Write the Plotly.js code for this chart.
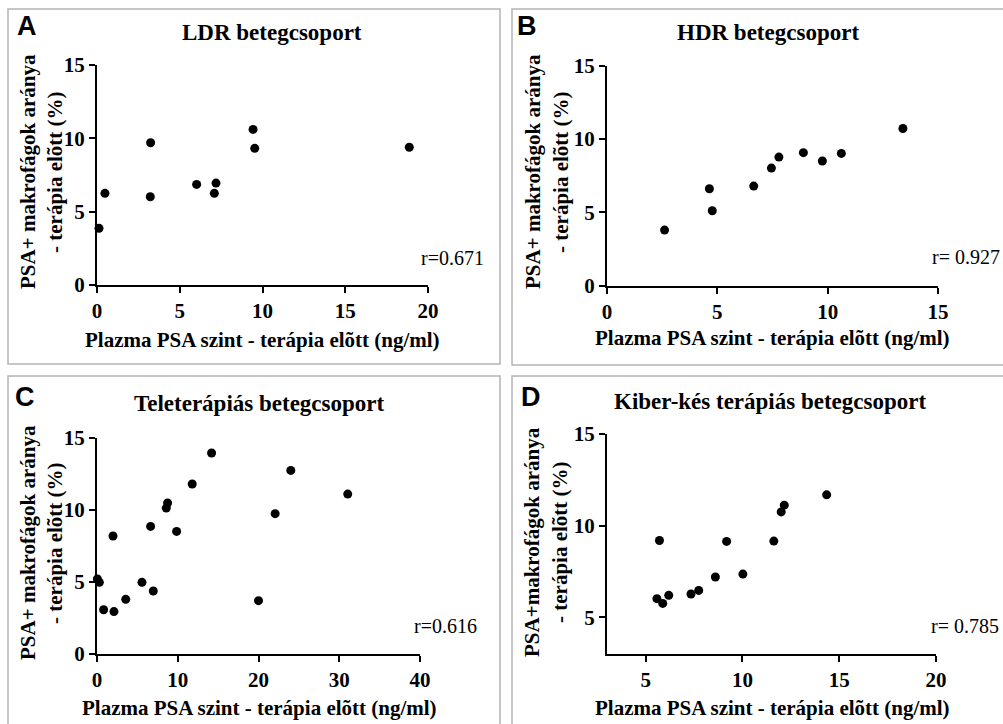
<!DOCTYPE html>
<html>
<head>
<meta charset="utf-8">
<script src="https://cdn.plot.ly/plotly-3.0.1.min.js"></script>
<style>
  html, body { margin: 0; padding: 0; background: #fff; }
  #chart { width: 1003px; height: 724px; }
</style>
</head>
<body>
<div id="chart"></div>
<script>
// Plasma PSA (ng/ml) vs. PSA+ macrophage ratio (%) before therapy, four patient groups
const ldrPsa   = [0.12, 0.48, 3.24, 3.22, 6.02, 7.19, 7.09, 9.43, 9.53, 18.87];
const ldrMacro = [3.87, 6.25, 9.70, 6.02, 6.86, 6.95, 6.25, 10.61, 9.32, 9.39];

const hdrPsa   = [2.61, 4.64, 4.77, 6.65, 7.45, 7.79, 8.90, 9.76, 10.62, 13.41];
const hdrMacro = [3.79, 6.61, 5.11, 6.79, 8.02, 8.77, 9.07, 8.50, 9.02, 10.72];

const telePsa   = [0.05, 0.29, 0.82, 2.10, 1.98, 3.56, 5.57, 6.64, 6.97, 8.58, 8.74, 9.86, 11.79, 14.19, 20.00, 22.06, 24.00, 31.05];
const teleMacro = [5.20, 4.97, 3.07, 2.94, 8.18, 3.79, 4.97, 8.85, 4.37, 10.12, 10.47, 8.50, 11.79, 13.94, 3.70, 9.73, 12.73, 11.09];

const cyberPsa   = [5.71, 5.58, 5.88, 6.19, 7.34, 7.74, 8.60, 9.18, 10.02, 11.62, 12.00, 12.16, 14.35];
const cyberMacro = [9.19, 6.02, 5.76, 6.20, 6.27, 6.47, 7.20, 9.14, 7.36, 9.16, 10.75, 11.12, 11.68];

const panelLetters = ['A', 'B', 'C', 'D'];
const panelTitles = ['LDR betegcsoport', 'HDR betegcsoport', 'Teleterápiás betegcsoport', 'Kiber-kés terápiás betegcsoport'];
const rLabels = ['r=0.671', 'r= 0.927', 'r=0.616', 'r= 0.785'];
const xTitle = 'Plazma PSA szint - terápia elõtt (ng/ml)';
const yTitleLines = [
  ['PSA+ makrofágok aránya', '- terápia elõtt (%)'],
  ['PSA+ makrofágok aránya', '- terápia elõtt (%)'],
  ['PSA+ makrofágok aránya', '- terápia elõtt (%)'],
  ['PSA+makrofágok aránya', '- terápia elõtt (%)']
];

const W = 1003, H = 724;
const px = v => v / W;
const py = v => 1 - v / H;

const SERIF = '"Liberation Serif", "Times New Roman", serif';
const SANS = '"Liberation Sans", Arial, sans-serif';

function dots(x, y, xa, ya) {
  return {
    type: 'scatter', mode: 'markers', x: x, y: y, xaxis: xa, yaxis: ya,
    marker: { color: '#000', size: 9 }, cliponaxis: false, hoverinfo: 'skip', showlegend: false
  };
}

const data = [
  dots(ldrPsa, ldrMacro, 'x', 'y'),
  dots(hdrPsa, hdrMacro, 'x2', 'y2'),
  dots(telePsa, teleMacro, 'x3', 'y3'),
  dots(cyberPsa, cyberMacro, 'x4', 'y4')
];

function axis(domain, range, dtick, anchor, tick0) {
  return {
    domain: domain, range: range, dtick: dtick, tick0: tick0 || 0, anchor: anchor,
    showline: true, linecolor: '#000', linewidth: 2,
    ticks: 'outside', ticklen: 6, tickwidth: 2, tickcolor: '#000',
    showgrid: false, zeroline: false, fixedrange: true,
    tickprefix: '<b>', ticksuffix: '</b>',
    tickfont: { family: SERIF, size: 21, color: '#000' }
  };
}

// plot-area frames in pixels: [left, right, top, bottom]
const boxes = [
  [97, 428, 65, 285],
  [607, 938, 65.7, 285.7],
  [97, 420, 437.7, 654],
  [607, 936, 434, 654]
];
const dom = b => ({ x: [px(b[0]), px(b[1])], y: [py(b[3]), py(b[2])] });
const d = boxes.map(dom);

const layout = {
  width: W, height: H,
  margin: { l: 0, r: 0, t: 0, b: 0 },
  paper_bgcolor: '#fff', plot_bgcolor: 'rgba(0,0,0,0)',
  showlegend: false,
  xaxis:  axis(d[0].x, [0, 20], 5, 'y'),
  yaxis:  axis(d[0].y, [0, 15], 5, 'x'),
  xaxis2: axis(d[1].x, [0, 15], 5, 'y2'),
  yaxis2: axis(d[1].y, [0, 15], 5, 'x2'),
  xaxis3: axis(d[2].x, [0, 40], 10, 'y3'),
  yaxis3: axis(d[2].y, [0, 15], 5, 'x3'),
  xaxis4: axis(d[3].x, [3, 20], 5, 'y4', 0),
  yaxis4: axis(d[3].y, [3, 15], 5, 'x4', 0),
  shapes: [],
  annotations: []
};

// panel frames
const frames = [
  [8, 500, 9, 364],
  [512, 1012, 9, 365],
  [8, 500, 376, 735],
  [512, 1012, 376, 735]
];
frames.forEach(f => layout.shapes.push({
  type: 'rect', xref: 'paper', yref: 'paper',
  x0: px(f[0]), x1: px(f[1]), y0: py(f[3]), y1: py(f[2]),
  line: { color: '#b4b4b4', width: 1.5 }, fillcolor: 'rgba(0,0,0,0)', layer: 'below'
}));

function note(text, x, y, font, extra) {
  return Object.assign({
    xref: 'paper', yref: 'paper', x: px(x), y: py(y), text: text, showarrow: false,
    xanchor: 'center', yanchor: 'middle', font: font
  }, extra || {});
}

const letterPos = [[27, 26], [527, 26], [25, 397], [531, 397]];
const titlePos = [[272, 33], [768, 33], [259, 403], [770, 401]];
const xTitlePos = [[262.5, 340], [772.5, 338], [259, 708], [772.5, 708]];
const yTitlePos = [[28, 55, 172], [533, 561, 172], [28, 55, 543], [532, 560, 542]];
const rPos = [[486, 258], [1002, 257], [479, 626], [1001, 626]];

const serif = s => ({ family: SERIF, size: s, color: '#000' });
const b = t => '<b>' + t + '</b>';

for (let i = 0; i < 4; i++) {
  layout.annotations.push(note(b(panelLetters[i]), letterPos[i][0], letterPos[i][1],
    { family: SANS, size: 27, color: '#000' }));
  layout.annotations.push(note(b(panelTitles[i]), titlePos[i][0], titlePos[i][1], serif(23)));
  layout.annotations.push(note(b(xTitle), xTitlePos[i][0], xTitlePos[i][1], serif(21)));
  layout.annotations.push(note(b(yTitleLines[i][0]), yTitlePos[i][0], yTitlePos[i][2], serif(21), { textangle: -90 }));
  layout.annotations.push(note(b(yTitleLines[i][1]), yTitlePos[i][1], yTitlePos[i][2], serif(21), { textangle: -90 }));
  layout.annotations.push(note(rLabels[i], rPos[i][0], rPos[i][1], serif(20), { xanchor: 'right' }));
}

Plotly.newPlot('chart', data, layout, { staticPlot: true, displayModeBar: false });
</script>
</body>
</html>
